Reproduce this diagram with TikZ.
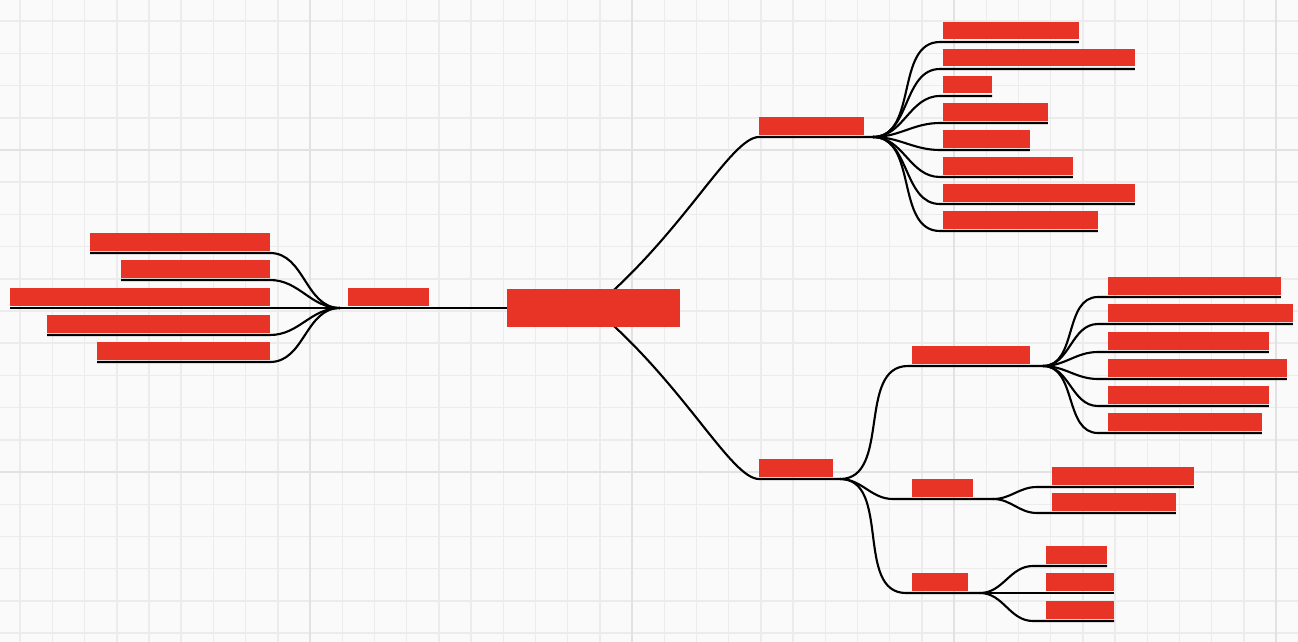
\documentclass[tikz,border=0pt]{standalone}
\usetikzlibrary{calc}

\definecolor{barred}{HTML}{E83427}
\definecolor{gridminor}{HTML}{ECECEC}
\definecolor{gridmajor}{HTML}{E2E2E2}
\definecolor{paper}{HTML}{FAFAFA}

\pgfdeclarelayer{grid}
\pgfdeclarelayer{links}
\pgfsetlayers{grid,links,main}

\begin{document}
\begin{tikzpicture}[x=0.02cm, y=-0.02cm,
  topic/.style={fill=barred, inner sep=0pt, outer xsep=0pt, outer ysep=0.05cm, minimum height=0.36cm, anchor=south west},
  rootbar/.style={fill=barred, inner sep=0pt, minimum width=3.46cm, minimum height=0.76cm},
  link/.style={draw=black, line width=1.2pt},
  minorline/.style={draw=gridminor, line width=0.8pt},
  majorline/.style={draw=gridmajor, line width=1.6pt}]

  \useasboundingbox (0,0) rectangle (1298,642);

  % Grid paper
  \begin{pgfonlayer}{grid}
    \fill[paper] (0,0) rectangle (1298,642);
    \foreach \gx in {0,...,39} \draw[minorline] ({20.2+32.2*\gx},0) -- ({20.2+32.2*\gx},642);
    \foreach \gy in {0,...,19} \draw[minorline] (0,{21.2+32.2*\gy}) -- (1298,{21.2+32.2*\gy});
    \foreach \gx in {310,632,954,1276} \draw[majorline] (\gx,0) -- (\gx,642);
    \foreach \gy in {150,472} \draw[majorline] (0,\gy) -- (1298,\gy);
  \end{pgfonlayer}

  % Root
  \node[rootbar] (root) at (593.5,308) {};

  % Left branch
  \node[topic, minimum width=1.62cm] (LP) at (348,308) {};
  \node[topic, minimum width=3.60cm] (L1) at (90,253) {};
  \node[topic, minimum width=2.98cm] (L2) at (121,280) {};
  \node[topic, minimum width=5.20cm] (L3) at (10,308) {};
  \node[topic, minimum width=4.46cm] (L4) at (47,335) {};
  \node[topic, minimum width=3.46cm] (L5) at (97,362) {};

  % Upper right branch
  \node[topic, minimum width=2.10cm] (P1) at (759,137) {};
  \node[topic, minimum width=2.72cm] (T1) at (943,42) {};
  \node[topic, minimum width=3.84cm] (T2) at (943,69) {};
  \node[topic, minimum width=0.98cm] (T3) at (943,96) {};
  \node[topic, minimum width=2.10cm] (T4) at (943,123) {};
  \node[topic, minimum width=1.74cm] (T5) at (943,150) {};
  \node[topic, minimum width=2.60cm] (T6) at (943,177) {};
  \node[topic, minimum width=3.84cm] (T7) at (943,204) {};
  \node[topic, minimum width=3.10cm] (T8) at (943,231) {};

  % Lower right branch
  \node[topic, minimum width=1.48cm] (P2) at (759,479) {};
  \node[topic, minimum width=2.36cm] (Q1) at (912,366) {};
  \node[topic, minimum width=1.22cm] (Q2) at (912,499) {};
  \node[topic, minimum width=1.12cm] (Q3) at (912,593) {};

  \node[topic, minimum width=3.46cm] (R1) at (1108,297) {};
  \node[topic, minimum width=3.70cm] (R2) at (1108,324) {};
  \node[topic, minimum width=3.22cm] (R3) at (1108,352) {};
  \node[topic, minimum width=3.58cm] (R4) at (1108,379) {};
  \node[topic, minimum width=3.22cm] (R5) at (1108,406) {};
  \node[topic, minimum width=3.08cm] (R6) at (1108,433) {};

  \node[topic, minimum width=2.84cm] (S1) at (1052,487) {};
  \node[topic, minimum width=2.48cm] (S2) at (1052,513) {};

  \node[topic, minimum width=1.22cm] (U1) at (1046,566) {};
  \node[topic, minimum width=1.36cm] (U2) at (1046,593) {};
  \node[topic, minimum width=1.36cm] (U3) at (1046,621) {};

  % Junctions
  \coordinate (JL) at (340,308);
  \coordinate (J1) at (873,137);
  \coordinate (J2) at (840,479);
  \coordinate (JA) at (1043,366);
  \coordinate (JB) at (993,499);
  \coordinate (JC) at (980,593);

  \begin{pgfonlayer}{links}
    % left side
    \draw[link] (L1.south west) -- (L1.south east) to[out=0, in=180] (JL);
    \draw[link] (L2.south west) -- (L2.south east) to[out=0, in=180] (JL);
    \draw[link] (L3.south west) -- (JL);
    \draw[link] (L4.south west) -- (L4.south east) to[out=0, in=180] (JL);
    \draw[link] (L5.south west) -- (L5.south east) to[out=0, in=180] (JL);
    \draw[link] (JL) -- (LP.south west) -- (LP.south east) -- (root.west);

    % root to the right
    \draw[link] (root.center) .. controls +(90,-75) and +(-28,0) .. (P1.south west) -- (J1);
    \draw[link] (root.center) .. controls +(90,75) and +(-28,0) .. (P2.south west) -- (J2);

    % upper fan
    \draw[link] (J1) to[out=0, in=180] ($(T1.south west)+(-3,0)$) -- (T1.south east);
    \draw[link] (J1) to[out=0, in=180] ($(T2.south west)+(-3,0)$) -- (T2.south east);
    \draw[link] (J1) to[out=0, in=180] ($(T3.south west)+(-3,0)$) -- (T3.south east);
    \draw[link] (J1) to[out=0, in=180] ($(T4.south west)+(-3,0)$) -- (T4.south east);
    \draw[link] (J1) to[out=0, in=180] ($(T5.south west)+(-3,0)$) -- (T5.south east);
    \draw[link] (J1) to[out=0, in=180] ($(T6.south west)+(-3,0)$) -- (T6.south east);
    \draw[link] (J1) to[out=0, in=180] ($(T7.south west)+(-3,0)$) -- (T7.south east);
    \draw[link] (J1) to[out=0, in=180] ($(T8.south west)+(-3,0)$) -- (T8.south east);

    % lower branch
    \draw[link] (J2) to[out=0, in=180] ($(Q1.south west)+(-4,0)$) -- (Q1.south east) -- (JA);
    \draw[link] (J2) to[out=0, in=180] ($(Q2.south west)+(-19,0)$) -- (Q2.south east) -- (JB);
    \draw[link] (J2) to[out=0, in=180] ($(Q3.south west)+(-6,0)$) -- (Q3.south east) -- (JC);

    \draw[link] (JA) to[out=0, in=180] ($(R1.south west)+(-10,0)$) -- (R1.south east);
    \draw[link] (JA) to[out=0, in=180] ($(R2.south west)+(-10,0)$) -- (R2.south east);
    \draw[link] (JA) to[out=0, in=180] ($(R3.south west)+(-10,0)$) -- (R3.south east);
    \draw[link] (JA) to[out=0, in=180] ($(R4.south west)+(-10,0)$) -- (R4.south east);
    \draw[link] (JA) to[out=0, in=180] ($(R5.south west)+(-10,0)$) -- (R5.south east);
    \draw[link] (JA) to[out=0, in=180] ($(R6.south west)+(-10,0)$) -- (R6.south east);

    \draw[link] (JB) to[out=0, in=180] ($(S1.south west)+(-15,0)$) -- (S1.south east);
    \draw[link] (JB) to[out=0, in=180] ($(S2.south west)+(-15,0)$) -- (S2.south east);

    \draw[link] (JC) to[out=0, in=180] ($(U1.south west)+(-13,0)$) -- (U1.south east);
    \draw[link] (JC) -- (U2.south west) -- (U2.south east);
    \draw[link] (JC) to[out=0, in=180] ($(U3.south west)+(-13,0)$) -- (U3.south east);
  \end{pgfonlayer}

\end{tikzpicture}
\end{document}
